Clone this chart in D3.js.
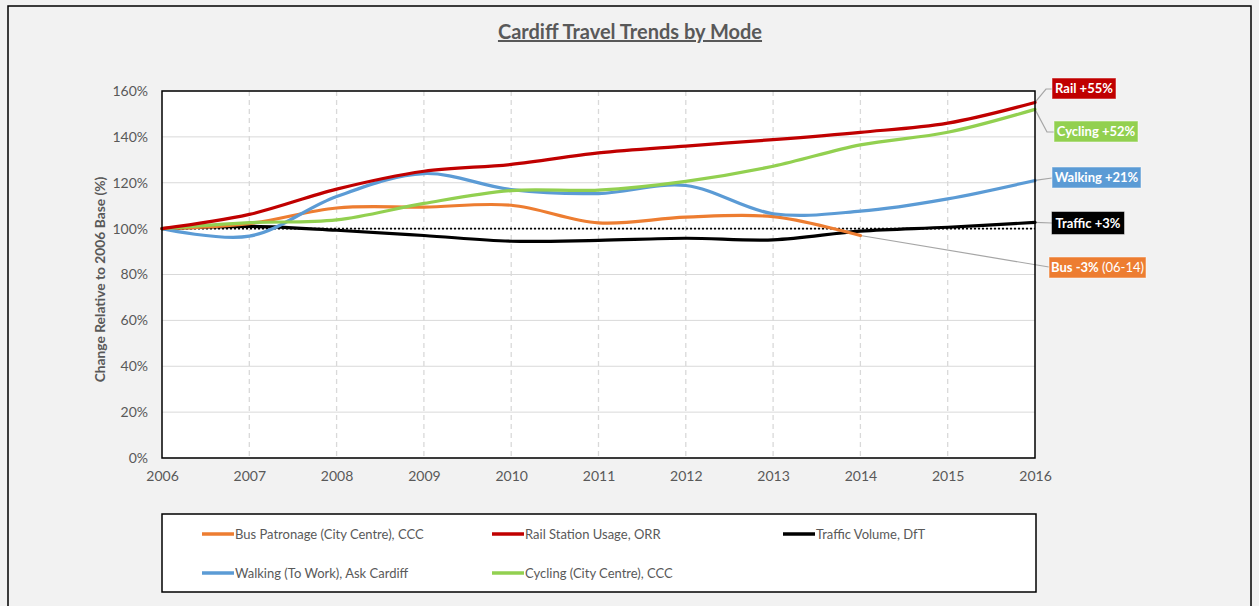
<!DOCTYPE html>
<html><head><meta charset="utf-8">
<script src="https://cdn.jsdelivr.net/npm/d3@7"></script>
<style>
body{margin:0;background:#f2f2f2;}
svg{display:block;font-family:Lato,"Open Sans",sans-serif;}
</style></head>
<body><svg id="c" width="1259" height="606"></svg>
<script>
const years = [2006,2007,2008,2009,2010,2011,2012,2013,2014,2015,2016];
const bus     = [100,102.2,109,109.4,110.2,102.5,105,105.2,97];
const rail    = [100,106.2,117.2,125,128,133,136,138.8,142,146,155];
const traffic = [100,101,99.3,97,94.5,94.9,95.8,95.1,98.9,100.6,102.7];
const walking = [100,96.7,114,124,117,115.3,118.8,106.5,107.6,113,121];
const cycling = [100,102.6,103.8,111,116.6,116.8,120.6,127.2,136.5,142,152];
const yTicks = [0,20,40,60,80,100,120,140,160];
const seriesNames = ["Bus Patronage (City Centre), CCC","Rail Station Usage, ORR","Traffic Volume, DfT","Walking (To Work), Ask Cardiff","Cycling (City Centre), CCC"];
const seriesValues = [bus, rail, traffic, walking, cycling];
const seriesColors = ["#ed7d31","#c00000","#000000","#5b9bd5","#92d050"];
const endLabels = [
  {s:1, text:"Rail +55%", extra:""},
  {s:4, text:"Cycling +52%", extra:""},
  {s:3, text:"Walking +21%", extra:""},
  {s:2, text:"Traffic +3%", extra:""},
  {s:0, text:"Bus -3%", extra:" (06-14)"}
];

const svg = d3.select("#c");
// outer frame
svg.append("rect").attr("x",8).attr("y",6).attr("width",1243).attr("height",620)
  .attr("fill","#f2f2f2").attr("stroke","#000").attr("stroke-width",1.5);

const L=162,R=1035,T=91,B=458;
const x = d3.scaleLinear().domain([2006,2016]).range([L,R]);
const y = d3.scaleLinear().domain([0,160]).range([B,T]);

svg.append("rect").attr("x",L).attr("y",T).attr("width",R-L).attr("height",B-T).attr("fill","#fff");

// horizontal grid
svg.append("g").selectAll("line").data(yTicks).join("line")
  .attr("x1",L).attr("x2",R).attr("y1",d=>y(d)).attr("y2",d=>y(d))
  .attr("stroke","#d9d9d9").attr("stroke-width",1);
// vertical dashed grid
svg.append("g").selectAll("line").data(years.slice(1,-1)).join("line")
  .attr("x1",d=>x(d)).attr("x2",d=>x(d)).attr("y1",T).attr("y2",B)
  .attr("stroke","#d9d9d9").attr("stroke-width",1.3).attr("stroke-dasharray","5,4");

// axes
const yAxis = svg.append("g").attr("transform",`translate(${L},0)`)
  .call(d3.axisLeft(y).tickValues(yTicks).tickFormat(d=>d+"%").tickSize(0).tickPadding(14));
const xAxis = svg.append("g").attr("transform",`translate(0,${B})`)
  .call(d3.axisBottom(x).tickValues(years).tickFormat(d3.format("d")).tickSize(0).tickPadding(13));
[yAxis,xAxis].forEach(g=>{g.select(".domain").remove();
  g.selectAll("text").attr("fill","#595959").style("font-size","14px").style("font-family","Lato, sans-serif");});

// 100% dotted reference
svg.append("line").attr("x1",L).attr("x2",R).attr("y1",y(100)).attr("y2",y(100))
  .attr("stroke","#000").attr("stroke-width",1.6).attr("stroke-dasharray","2,2");

// leader lines
const gray="#a6a6a6";
const leader = (pts)=>svg.append("polyline").attr("points",pts.map(p=>p.join(",")).join(" "))
  .attr("fill","none").attr("stroke",gray).attr("stroke-width",1.2);
leader([[x(2016),y(rail[10])],[1046,89],[1052,89]]);
leader([[x(2016),y(cycling[10])],[1047,132],[1054,132]]);
leader([[x(2016),y(walking[10])],[1052,178]]);
leader([[x(2016),y(traffic[10])],[1052,223]]);
leader([[x(2014),y(bus[8])],[1049,267]]);

// lines
const line = d3.line().x((d,i)=>x(years[i])).y(d=>y(d)).curve(d3.curveCatmullRom.alpha(0.5));
const order = [2,0,3,4,1];
svg.append("g").selectAll("path").data(order).join("path")
  .attr("d",i=>line(seriesValues[i])).attr("fill","none")
  .attr("stroke",i=>seriesColors[i]).attr("stroke-width",3.2).attr("stroke-linecap","round");

// plot border
svg.append("rect").attr("x",L).attr("y",T).attr("width",R-L).attr("height",B-T)
  .attr("fill","none").attr("stroke","#000").attr("stroke-width",1.5);

// end labels
const boxes = [
  {x:1052,y:78,w:64,h:21},
  {x:1054,y:121,w:84,h:21},
  {x:1052,y:167,w:89,h:21},
  {x:1052,y:212,w:72,h:22},
  {x:1049,y:257,w:97,h:21}
];
endLabels.forEach((lab,k)=>{
  const b=boxes[k];
  svg.append("rect").attr("x",b.x).attr("y",b.y).attr("width",b.w).attr("height",b.h)
    .attr("fill",seriesColors[lab.s]).attr("stroke", lab.s===2?"#000":"#fff").attr("stroke-opacity",0.5);
  const t = svg.append("text").attr("x",b.x+b.w/2).attr("y",b.y+b.h/2+4.5).attr("text-anchor","middle")
    .attr("fill","#fff").style("font-size","13px").style("font-weight","bold").text(lab.text);
  if(lab.extra) t.append("tspan").style("font-weight","normal").text(lab.extra);
});

// title
svg.append("text").attr("x",630).attr("y",39).attr("text-anchor","middle")
  .attr("fill","#595959").style("font-size","20px").style("font-weight","bold")
  .style("text-decoration","underline").text("Cardiff Travel Trends by Mode");

// y label
svg.append("text").attr("transform",`translate(105,${(T+B)/2+5}) rotate(-90)`).attr("text-anchor","middle")
  .attr("fill","#595959").style("font-size","13.8px").style("font-weight","bold")
  .text("Change Relative to 2006 Base (%)");

// legend
svg.append("rect").attr("x",162).attr("y",514).attr("width",874).attr("height",78)
  .attr("fill","#fff").attr("stroke","#000").attr("stroke-width",1.5);
const legPos = [[202,534],[492,534],[783,534],[202,573],[492,573]];
seriesNames.forEach((n,i)=>{
  const [lx,ly]=legPos[i];
  svg.append("line").attr("x1",lx).attr("x2",lx+32).attr("y1",ly).attr("y2",ly)
    .attr("stroke",seriesColors[i]).attr("stroke-width",3.5);
  svg.append("text").attr("x",lx+33).attr("y",ly+4.5).attr("fill","#595959")
    .style("font-size","13px").text(n);
});
</script></body></html>
